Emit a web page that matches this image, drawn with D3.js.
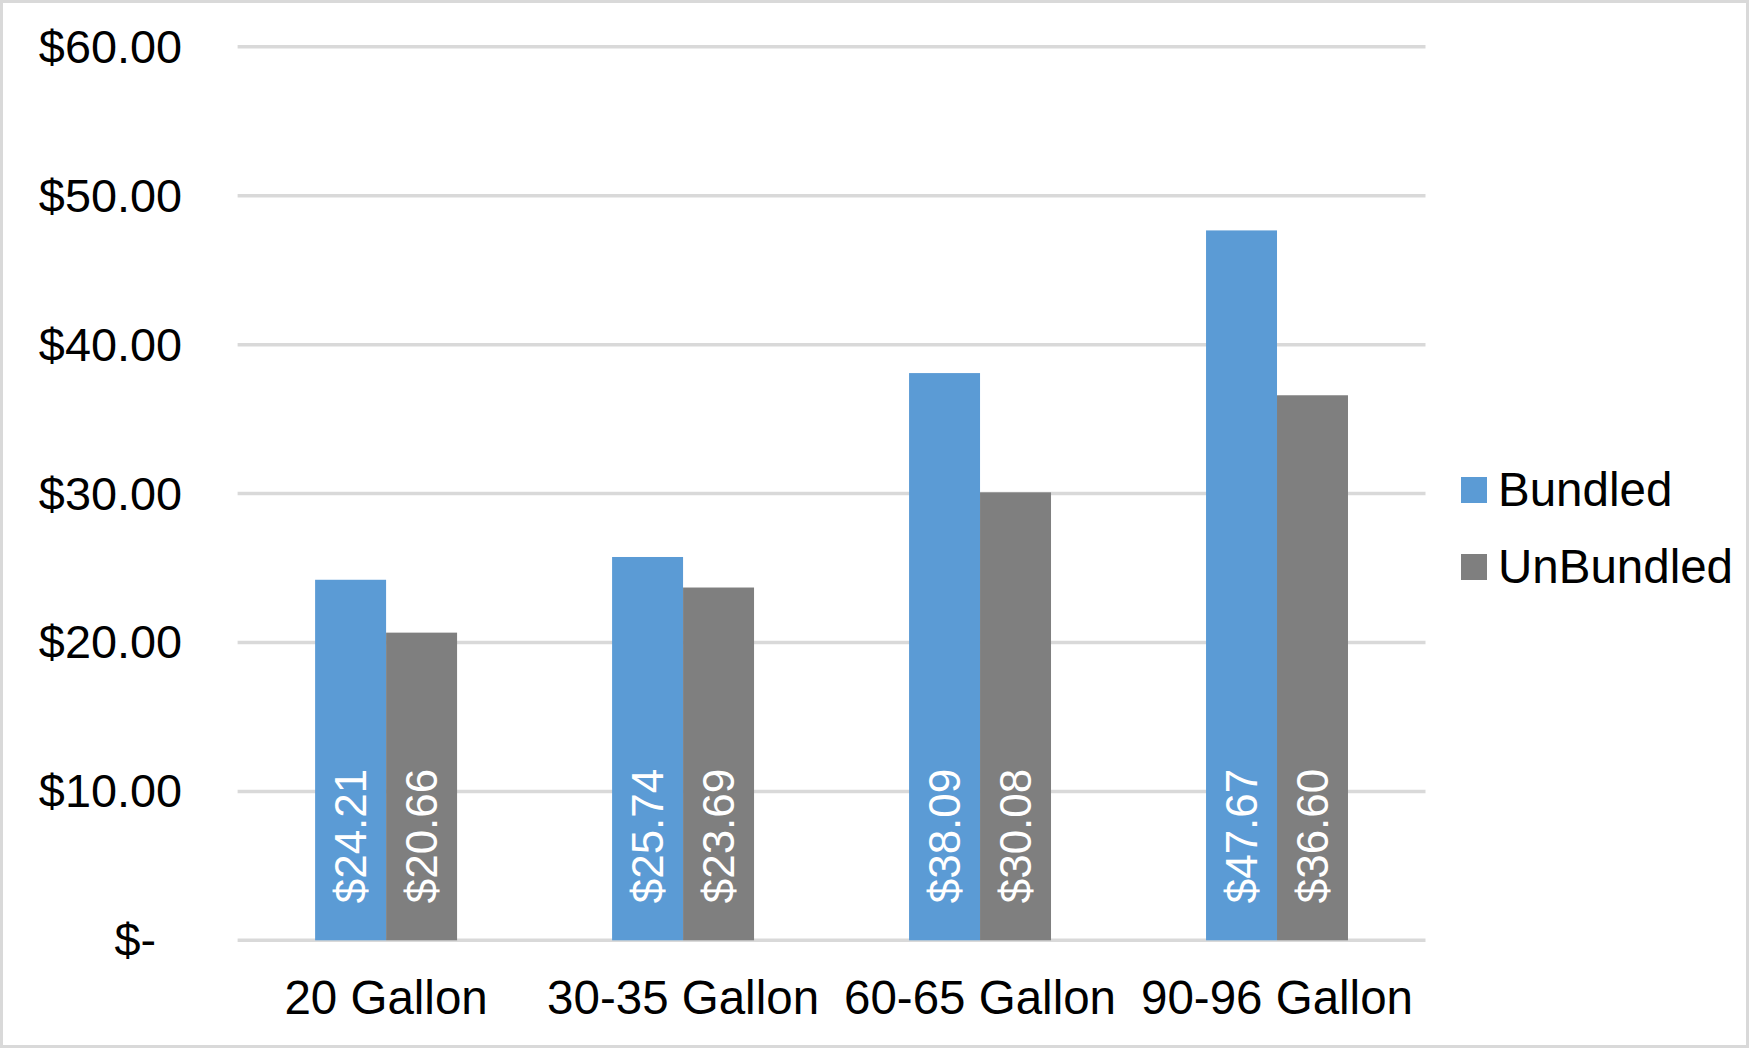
<!DOCTYPE html>
<html lang="en">
<head>
<meta charset="utf-8">
<title>Bundled vs UnBundled</title>
<script src="https://d3js.org/d3.v7.min.js"></script>
<style>
  html, body { margin: 0; padding: 0; background: #fff; }
  svg { display: block; }
  text { font-family: "Liberation Sans", Arial, sans-serif; }
</style>
</head>
<body>
<div id="chart"></div>
<script>
var categories = ["20 Gallon", "30-35 Gallon", "60-65 Gallon", "90-96 Gallon"];
var seriesNames = ["Bundled", "UnBundled"];
var bundled = [24.21, 25.74, 38.09, 47.67];
var unbundled = [20.66, 23.69, 30.08, 36.60];
var yTicks = [0, 10, 20, 30, 40, 50, 60];

var W = 1749, H = 1048;
var colors = {Bundled: "#5b9bd5", UnBundled: "#7f7f7f"};

var svg = d3.select("#chart").append("svg")
  .attr("width", W)
  .attr("height", H);

// chart border
svg.append("rect")
  .attr("x", 1.5).attr("y", 1.5)
  .attr("width", W - 3).attr("height", H - 3)
  .attr("fill", "#fff")
  .attr("stroke", "#d9d9d9")
  .attr("stroke-width", 3);

var plot = {left: 237.6, right: 1425.5, top: 46.8, bottom: 940.3};

var x = d3.scaleBand()
  .domain(categories)
  .range([plot.left, plot.right])
  .paddingInner(0.522)
  .paddingOuter(0.261);

var xSub = d3.scaleBand()
  .domain(seriesNames)
  .range([0, x.bandwidth()]);

var y = d3.scaleLinear()
  .domain([0, 60])
  .range([plot.bottom, plot.top]);

function money(v) {
  return v === 0 ? "$-" : "$" + d3.format(",.2f")(v);
}

// gridlines
svg.append("g").selectAll("line")
  .data(yTicks)
  .enter().append("line")
  .attr("x1", plot.left).attr("x2", plot.right)
  .attr("y1", function(d) { return y(d); })
  .attr("y2", function(d) { return y(d); })
  .attr("stroke", "#d9d9d9")
  .attr("stroke-width", 3.5);

// y axis labels
var yAxis = d3.axisLeft(y).tickValues(yTicks).tickFormat(money).tickSize(0).tickPadding(0);
var yg = svg.append("g")
  .attr("transform", "translate(182,0)")
  .call(yAxis);
yg.select(".domain").remove();
yg.selectAll("text")
  .attr("font-size", 46.8)
  .attr("font-family", "'Liberation Sans', Arial, sans-serif")
  .attr("fill", "#000")
  .attr("dy", "0.33em")
  // accounting format leaves trailing space after the zero dash
  .attr("x", function(d) { return d === 0 ? -26 : 0; });

// bars
var rows = categories.map(function(c, i) {
  return {cat: c, values: [{s: "Bundled", v: bundled[i]}, {s: "UnBundled", v: unbundled[i]}]};
});

var groups = svg.append("g").selectAll("g")
  .data(rows)
  .enter().append("g")
  .attr("transform", function(d) { return "translate(" + x(d.cat) + ",0)"; });

groups.selectAll("rect")
  .data(function(d) { return d.values; })
  .enter().append("rect")
  .attr("x", function(d) { return xSub(d.s); })
  .attr("y", function(d) { return y(d.v); })
  .attr("width", xSub.bandwidth())
  .attr("height", function(d) { return y(0) - y(d.v); })
  .attr("fill", function(d) { return colors[d.s]; });

// data labels, rotated, inside base
groups.selectAll("text")
  .data(function(d) { return d.values; })
  .enter().append("text")
  .attr("transform", function(d) {
    var cx = xSub(d.s) + xSub.bandwidth() / 2;
    return "translate(" + cx + "," + (y(0) - 37) + ") rotate(-90)";
  })
  .attr("dy", "0.36em")
  .attr("text-anchor", "start")
  .attr("font-size", 44)
  .attr("fill", "#fff")
  .text(function(d) { return money(d.v); });

// x axis labels
var xAxis = d3.axisBottom(x).tickSize(0).tickPadding(0);
var xg = svg.append("g")
  .attr("transform", "translate(0,1014)")
  .call(xAxis);
xg.select(".domain").remove();
xg.selectAll("text")
  .attr("font-size", 47.5)
  .attr("font-family", "'Liberation Sans', Arial, sans-serif")
  .attr("fill", "#000")
  .attr("dy", 0);

// legend
var legend = svg.append("g").selectAll("g")
  .data(seriesNames)
  .enter().append("g")
  .attr("transform", function(d, i) { return "translate(1461," + (477 + i * 77) + ")"; });

legend.append("rect")
  .attr("width", 26).attr("height", 26)
  .attr("fill", function(d) { return colors[d]; });

legend.append("text")
  .attr("x", 37)
  .attr("y", 29)
  .attr("font-size", 47.5)
  .attr("fill", "#000")
  .text(function(d) { return d; });
</script>
</body>
</html>
